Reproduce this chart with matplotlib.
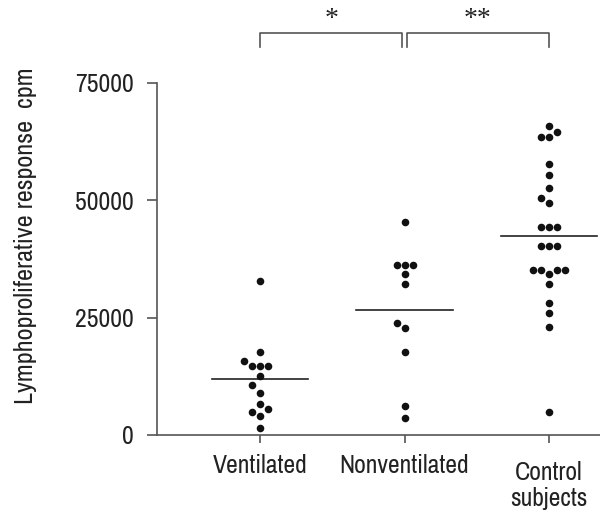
import numpy as np
import matplotlib
matplotlib.use("Agg")
import matplotlib.pyplot as plt

# ---- data ----
categories = ["Ventilated", "Nonventilated", "Control\nsubjects"]
ventilated = [32900, 17700, 15800, 14600, 14600, 14600, 12600, 10600, 8900,
              6600, 5500, 4800, 4100, 1400]
nonventilated = [45300, 36200, 36200, 36200, 34300, 32100, 23900, 22900,
                 17600, 6100, 3600]
control = [65800, 64500, 63600, 63600, 57700, 55300, 52600, 50400, 49400,
           44400, 44400, 44400, 40300, 40300, 40300, 35200, 35200, 35200,
           35200, 34300, 32200, 28200, 26100, 23100, 5000]
group_means = [11900, 26600, 42500]
y_ticks = [0, 25000, 50000, 75000]
sig_labels = ["*", "**"]

groups = [ventilated, nonventilated, control]

plt.rcParams["font.family"] = ["Archivo Narrow", "Liberation Sans", "DejaVu Sans"]

ink = "#222222"
axc = "#555555"

fig = plt.figure(figsize=(6.0, 5.15), dpi=100)
W, H = 600, 515
ax = fig.add_axes([157 / W, (H - 435) / H, (600 - 157) / W, (435 - 83) / H])
ax.set_xlim(-0.713, 2.353)
ax.set_ylim(0, 75000)

for s in ["top", "right"]:
    ax.spines[s].set_visible(False)
for s in ["left", "bottom"]:
    ax.spines[s].set_color(axc)
    ax.spines[s].set_linewidth(1.2)

fs = 18.5
ax.set_yticks(y_ticks)
ax.set_yticklabels([str(v) for v in y_ticks])
ax.set_xticks(range(len(categories)))
ax.set_xticklabels(categories, linespacing=1.15)
ax.tick_params(axis="y", length=7.5, width=1.2, color=axc, labelsize=fs,
               labelcolor=ink, pad=9.5)
ax.tick_params(axis="x", length=5.8, width=1.2, color=axc, labelsize=fs,
               labelcolor=ink, pad=8)
ax.xaxis.get_major_ticks()[2].set_pad(13)
ax.set_ylabel("Lymphoproliferative response  cpm", fontsize=18.8, color=ink)
ax.yaxis.set_label_coords(-0.272, 0.565)

# ---- beeswarm layout computed in pixel space ----
fig.canvas.draw()
to_px = ax.transData
slot_px = 8.0
thr = 8.0
px_per_unit = to_px.transform((1, 0))[0] - to_px.transform((0, 0))[0]
order = [0, -1, 1, -2, 2, -3, 3]

for gi, vals in enumerate(groups):
    ys_px = [to_px.transform((gi, v))[1] for v in vals]
    idx = np.argsort(ys_px, kind="stable")
    placed = []
    xs = np.zeros(len(vals))
    for i in idx:
        ypx = ys_px[i]
        for k in order:
            xpx = k * slot_px
            ok = all(np.hypot(xpx - px, ypx - py) >= thr - 1e-6 for px, py in placed)
            if ok:
                placed.append((xpx, ypx))
                xs[i] = gi + xpx / px_per_unit
                break
    ax.scatter(xs, vals, s=30, color="#111111", zorder=3, clip_on=False,
               linewidths=0)
    ax.plot([gi - 0.335, gi + 0.335], [group_means[gi]] * 2, color=ink,
            lw=1.2, zorder=2)

# ---- significance brackets ----
top_v, bot_v = 85700, 82700
pairs = [(0, 0.985), (1.015, 2)]
for (a, b), lab in zip(pairs, sig_labels):
    ax.plot([a, a, b, b], [bot_v, top_v, top_v, bot_v], color=axc, lw=1.2,
            clip_on=False)
    ax.text((a + b) / 2, 88600, lab, ha="center", va="center",
            fontsize=20, color=ink, family="Liberation Serif")

fig.savefig("out.png", dpi=100)
